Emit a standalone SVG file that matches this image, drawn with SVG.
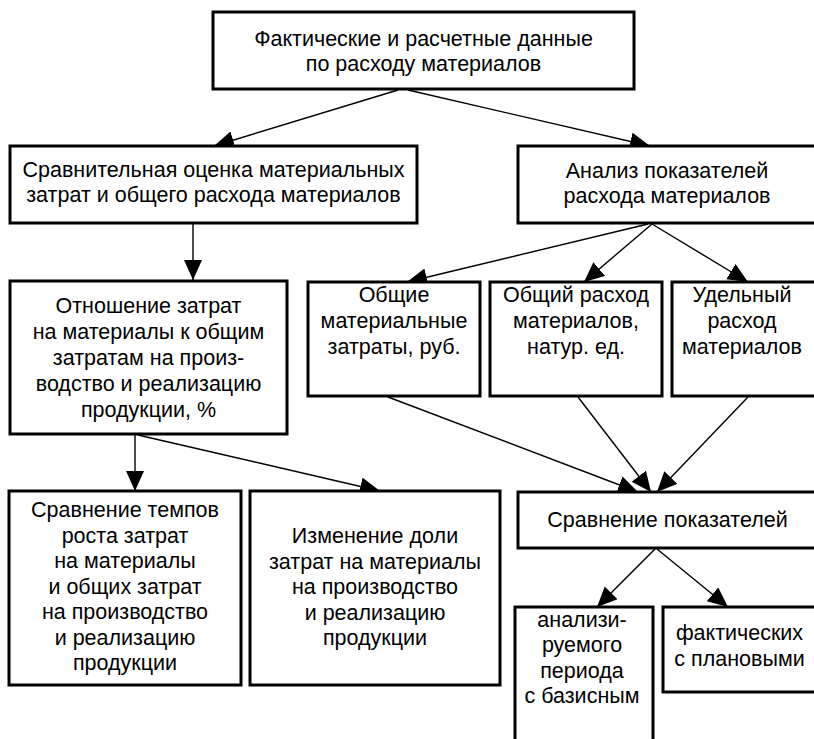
<svg xmlns="http://www.w3.org/2000/svg" width="814" height="739" viewBox="0 0 814 739">
<style>
.box{fill:#fff;stroke:#000;stroke-width:3}
.t{font-family:"Liberation Sans",Arial,sans-serif;font-size:21.5px;fill:#000;text-anchor:middle}
.c{fill:none;stroke:#000;stroke-width:1.4}
</style>
<defs>
<marker id="ah" markerUnits="userSpaceOnUse" markerWidth="22" markerHeight="20" refX="20" refY="9" orient="auto">
<path d="M0,0 L20,9 L0,18 z" fill="#000"/>
</marker>
</defs>
<rect width="814" height="739" fill="#fff"/>
<g id="connectors">
<line class="c" x1="398" y1="90" x2="214" y2="146" marker-end="url(#ah)"/>
<line class="c" x1="408" y1="90" x2="650" y2="146" marker-end="url(#ah)"/>
<line class="c" x1="193" y1="224" x2="193" y2="280" marker-end="url(#ah)"/>
<line class="c" x1="648" y1="224" x2="407" y2="282" marker-end="url(#ah)"/>
<line class="c" x1="652" y1="224" x2="584" y2="282" marker-end="url(#ah)"/>
<line class="c" x1="652" y1="224" x2="748" y2="282" marker-end="url(#ah)"/>
<line class="c" x1="135" y1="435" x2="135" y2="491" marker-end="url(#ah)"/>
<line class="c" x1="138" y1="435" x2="380" y2="491" marker-end="url(#ah)"/>
<line class="c" x1="388" y1="397" x2="638" y2="492" marker-end="url(#ah)"/>
<line class="c" x1="578" y1="397" x2="651" y2="492" marker-end="url(#ah)"/>
<line class="c" x1="748" y1="397" x2="657" y2="492" marker-end="url(#ah)"/>
<line class="c" x1="655" y1="549" x2="597" y2="607" marker-end="url(#ah)"/>
<line class="c" x1="657" y1="549" x2="728" y2="607" marker-end="url(#ah)"/>
</g>
<g id="n1"><rect class="box" x="213" y="12" width="421" height="77"/>
<text class="t" x="423.5" y="46">Фактические и расчетные данные</text>
<text class="t" x="423.5" y="71">по расходу материалов</text></g>
<g id="n2"><rect class="box" x="10" y="146" width="407" height="77"/>
<text class="t" x="213.5" y="177">Сравнительная оценка материальных</text>
<text class="t" x="213.5" y="202">затрат и общего расхода материалов</text></g>
<g id="n3"><rect class="box" x="518" y="146" width="300" height="77"/>
<text class="t" x="667" y="178">Анализ показателей</text>
<text class="t" x="667" y="203">расхода материалов</text></g>
<g id="n4"><rect class="box" x="10" y="281" width="277" height="153"/>
<text class="t" x="148.5" y="313">Отношение затрат</text>
<text class="t" x="148.5" y="339">на материалы к общим</text>
<text class="t" x="148.5" y="365">затратам на произ-</text>
<text class="t" x="148.5" y="391">водство и реализацию</text>
<text class="t" x="148.5" y="417">продукции, %</text></g>
<g id="n5"><rect class="box" x="308" y="282" width="172" height="114"/>
<text class="t" x="394" y="302">Общие</text>
<text class="t" x="394" y="328">материальные</text>
<text class="t" x="394" y="354">затраты, руб.</text></g>
<g id="n6"><rect class="box" x="490" y="282" width="172" height="114"/>
<text class="t" x="576" y="302">Общий расход</text>
<text class="t" x="576" y="328">материалов,</text>
<text class="t" x="576" y="354">натур. ед.</text></g>
<g id="n7"><rect class="box" x="672" y="282" width="146" height="114"/>
<text class="t" x="742" y="302">Удельный</text>
<text class="t" x="742" y="328">расход</text>
<text class="t" x="742" y="354">материалов</text></g>
<g id="n8"><rect class="box" x="9" y="491" width="232" height="194"/>
<text class="t" x="125" y="517">Сравнение темпов</text>
<text class="t" x="125" y="542.5">роста затрат</text>
<text class="t" x="125" y="568">на материалы</text>
<text class="t" x="125" y="593.5">и общих затрат</text>
<text class="t" x="125" y="619">на производство</text>
<text class="t" x="125" y="644.5">и реализацию</text>
<text class="t" x="125" y="670">продукции</text></g>
<g id="n9"><rect class="box" x="250" y="491" width="250" height="194"/>
<text class="t" x="375" y="543">Изменение доли</text>
<text class="t" x="375" y="568.5">затрат на материалы</text>
<text class="t" x="375" y="594">на производство</text>
<text class="t" x="375" y="619.5">и реализацию</text>
<text class="t" x="375" y="645">продукции</text></g>
<g id="n10"><rect class="box" x="518" y="492" width="300" height="56"/>
<text class="t" x="667.5" y="527">Сравнение показателей</text></g>
<g id="n11"><rect class="box" x="515" y="607" width="138" height="140"/>
<text class="t" x="582" y="627">анализи-</text>
<text class="t" x="582" y="652">руемого</text>
<text class="t" x="582" y="677.5">периода</text>
<text class="t" x="582" y="703">с базисным</text></g>
<g id="n12"><rect class="box" x="663" y="607" width="155" height="85"/>
<text class="t" x="739.5" y="640">фактических</text>
<text class="t" x="739.5" y="665.5">с плановыми</text></g>
</svg>
